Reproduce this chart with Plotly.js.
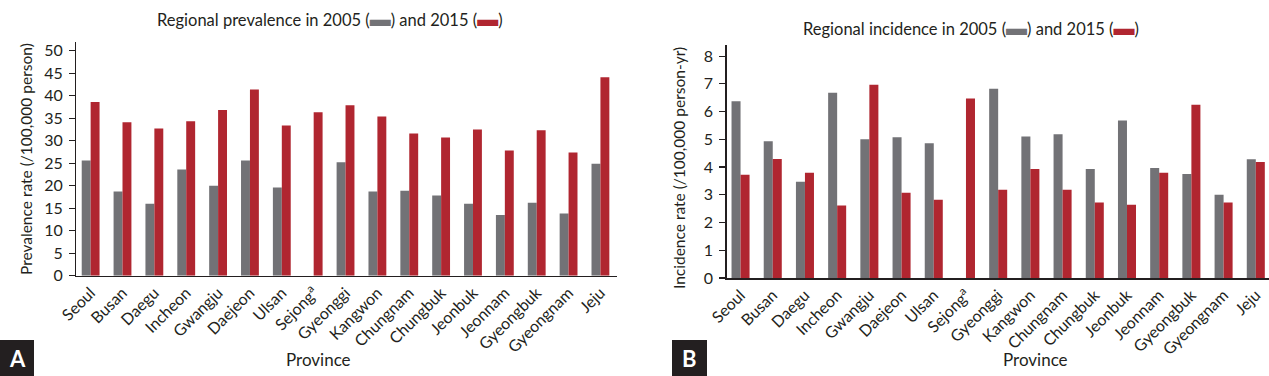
<!DOCTYPE html>
<html>
<head>
<meta charset="utf-8">
<script src="https://cdn.plot.ly/plotly-3.0.1.min.js"></script>
<style>html,body{margin:0;padding:0;background:#fff;}#chart{width:1269px;height:376px;}</style>
</head>
<body>
<div id="chart"></div>
<script>
// ---- data ----
const provinces = ['Seoul','Busan','Daegu','Incheon','Gwangju','Daejeon','Ulsan','Sejong<sup>a</sup>','Gyeonggi','Kangwon','Chungnam','Chungbuk','Jeonbuk','Jeonnam','Gyeongbuk','Gyeongnam','Jeju'];
const prevalence2005 = [25.6, 18.7, 16.0, 23.6, 20.0, 25.6, 19.6, null, 25.2, 18.7, 18.9, 17.8, 16.0, 13.5, 16.2, 13.8, 24.9];
const prevalence2015 = [38.6, 34.1, 32.7, 34.3, 36.8, 41.4, 33.4, 36.3, 37.9, 35.4, 31.6, 30.7, 32.5, 27.8, 32.3, 27.4, 44.1];
const incidence2005 = [6.37, 4.93, 3.47, 6.68, 5.00, 5.07, 4.86, null, 6.82, 5.10, 5.18, 3.93, 5.68, 3.97, 3.75, 3.00, 4.28];
const incidence2015 = [3.72, 4.29, 3.79, 2.61, 6.97, 3.07, 2.82, 6.47, 3.18, 3.93, 3.18, 2.72, 2.64, 3.79, 6.25, 2.72, 4.18];
const prevTicks = [0,5,10,15,20,25,30,35,40,45,50];
const incTicks = [0,1,2,3,4,5,6,7,8];

// ---- style ----
const GRAY = '#727276';
const RED = '#b02630';
const INK = '#231f20';
const FONT = 'Lato, "Open Sans", sans-serif';
const W = 1269, H = 376;
const px = v => v / W;
const py = v => 1 - v / H;

const traces = [
  {type:'bar', x:provinces, y:prevalence2005, marker:{color:GRAY}, xaxis:'x', yaxis:'y', hoverinfo:'skip'},
  {type:'bar', x:provinces, y:prevalence2015, marker:{color:RED}, xaxis:'x', yaxis:'y', hoverinfo:'skip'},
  {type:'bar', x:provinces, y:incidence2005, marker:{color:GRAY}, xaxis:'x2', yaxis:'y2', hoverinfo:'skip'},
  {type:'bar', x:provinces, y:incidence2015, marker:{color:RED}, xaxis:'x2', yaxis:'y2', hoverinfo:'skip'}
];

const xCommon = {
  type:'category', showline:true, linecolor:INK, linewidth:1.6, ticks:'', showgrid:false, zeroline:false,
  tickangle:-45, tickfont:{family:FONT, size:16, color:INK}, fixedrange:true
};
const yCommon = {
  showline:true, linecolor:INK, linewidth:1.4, ticks:'outside', ticklen:6, tickwidth:1.2, tickcolor:INK,
  showgrid:false, zeroline:false, tickfont:{family:FONT, size:16, color:INK}, ticklabelstandoff:3, fixedrange:true
};

const swatch = c => '<span style="color:' + c + ';font-size:21px">▬</span>';

const layout = {
  width:W, height:H, margin:{l:0, r:0, t:0, b:0},
  paper_bgcolor:'#fff', plot_bgcolor:'rgba(0,0,0,0)',
  showlegend:false, barmode:'group', bargap:0.44, bargroupgap:0,
  font:{family:FONT, color:INK},
  xaxis: Object.assign({}, xCommon, {domain:[px(76.3), px(617)], range:[-0.45, 16.52], anchor:'y'}),
  yaxis: Object.assign({}, yCommon, {domain:[py(275.7), py(41.7)], range:[0, 52], tickvals:prevTicks, anchor:'x'}),
  xaxis2: Object.assign({}, xCommon, {domain:[px(726.7), 1], range:[-0.43, 16.41], anchor:'y2'}),
  yaxis2: Object.assign({}, yCommon, {domain:[py(278), py(45)], range:[0, 8.4], tickvals:incTicks, anchor:'x2'}),
  annotations:[
    {xref:'paper', yref:'paper', x:px(330), y:py(18), xanchor:'center', yanchor:'middle', showarrow:false,
     text:'Regional prevalence in 2005 (' + swatch(GRAY) + ') and 2015 (' + swatch(RED) + ')', font:{size:16.5, color:INK}},
    {xref:'paper', yref:'paper', x:px(971), y:py(27), xanchor:'center', yanchor:'middle', showarrow:false,
     text:'Regional incidence in 2005 (' + swatch(GRAY) + ') and 2015 (' + swatch(RED) + ')', font:{size:16.5, color:INK}},
    {xref:'paper', yref:'paper', x:px(26), y:py(159), xanchor:'center', yanchor:'middle', showarrow:false, textangle:-90,
     text:'Prevalence rate (/100,000 person)', font:{size:15.5, color:INK}},
    {xref:'paper', yref:'paper', x:px(679), y:py(168), xanchor:'center', yanchor:'middle', showarrow:false, textangle:-90,
     text:'Incidence rate (/100,000 person-yr)', font:{size:15.5, color:INK}},
    {xref:'paper', yref:'paper', x:px(319), y:py(359), xanchor:'center', yanchor:'middle', showarrow:false,
     text:'Province', font:{size:17, color:INK}},
    {xref:'paper', yref:'paper', x:px(1035), y:py(359), xanchor:'center', yanchor:'middle', showarrow:false,
     text:'Province', font:{size:17, color:INK}},
    {xref:'paper', yref:'paper', x:px(17), y:py(358), xanchor:'center', yanchor:'middle', showarrow:false,
     text:'<b>A</b>', font:{size:22, color:'#ffffff'}},
    {xref:'paper', yref:'paper', x:px(689.5), y:py(358), xanchor:'center', yanchor:'middle', showarrow:false,
     text:'<b>B</b>', font:{size:22, color:'#ffffff'}}
  ],
  shapes:[
    {type:'rect', xref:'paper', yref:'paper', x0:0, x1:px(34), y0:0, y1:py(340), fillcolor:'#231f20', line:{width:0}, layer:'below'},
    {type:'rect', xref:'paper', yref:'paper', x0:px(672), x1:px(707), y0:0, y1:py(340), fillcolor:'#231f20', line:{width:0}, layer:'below'}
  ]
};

Plotly.newPlot('chart', traces, layout, {displayModeBar:false, staticPlot:true});
</script>
</body>
</html>
